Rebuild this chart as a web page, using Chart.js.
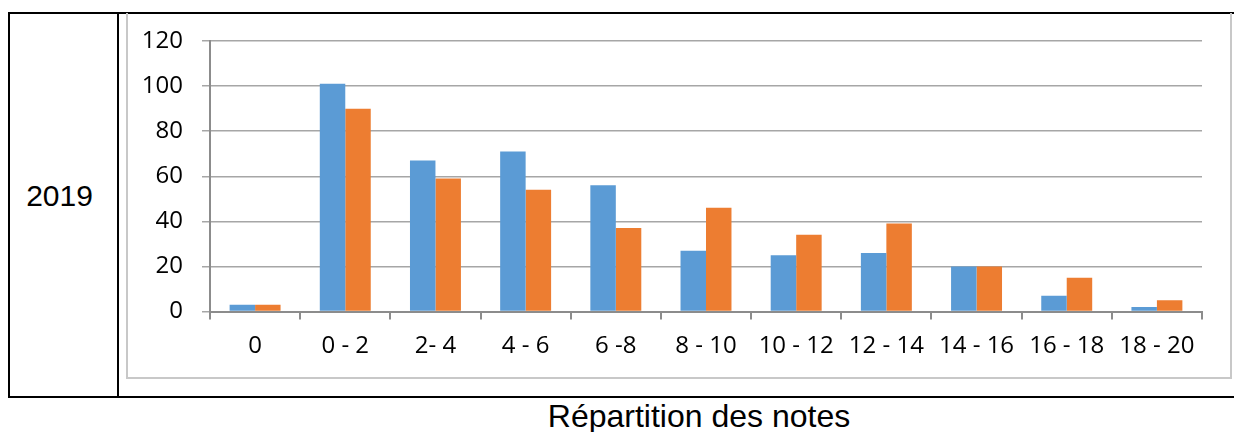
<!DOCTYPE html>
<html>
<head>
<meta charset="utf-8">
<script src="https://cdn.jsdelivr.net/npm/chart.js@4/dist/chart.umd.min.js"></script>
<style>
  body { margin: 0; width: 1234px; height: 432px; background: #fff; position: relative; overflow: hidden; font-family: "Liberation Sans", Arial, sans-serif; }
  .line { position: absolute; background: #000; }
  .year { position: absolute; left: 6px; width: 107px; top: 179px; text-align: center; font-size: 30px; color: #000; }
  .frame { position: absolute; left: 126px; top: 13px; width: 1102px; height: 364px; border: 2px solid #c8c8c8; border-top: none; }
  .chart-box { position: absolute; left: 127px; top: 14px; width: 1102px; height: 363px; }
  .caption { position: absolute; left: 0; width: 1398px; top: 398px; text-align: center; font-size: 32px; color: #000; }
</style>
</head>
<body>
<div class="line" style="left:8px; top:12px; width:1226px; height:2px;"></div>
<div class="line" style="left:8px; top:12px; width:2px; height:386px;"></div>
<div class="line" style="left:117px; top:12px; width:2px; height:386px;"></div>
<div class="line" style="left:8px; top:396px; width:1226px; height:2px;"></div>
<div class="year">2019</div>
<div class="frame"></div>
<div class="chart-box"><canvas id="myChart" width="1102" height="363"></canvas></div>
<div class="caption">Répartition des notes</div>

<script>
const categories = ["0", "0 - 2", "2- 4", "4 - 6", "6 -8", "8 - 10", "10 - 12", "12 - 14", "14 - 16", "16 - 18", "18 - 20"];
const blueValues = [3, 101, 67, 71, 56, 27, 25, 26, 20, 7, 2];
const orangeValues = [3, 90, 59, 54, 37, 46, 34, 39, 20, 15, 5];
const yTicks = [0, 20, 40, 60, 80, 100, 120];

const tickFont = { family: "'Open Sans', sans-serif", size: 24 };

const ctx = document.getElementById('myChart').getContext('2d');
const myChart = new Chart(ctx, {
    type: 'bar',
    data: {
        labels: categories,
        datasets: [{
            data: blueValues,
            backgroundColor: "#5b9bd5",
            borderWidth: 0,
        }, {
            data: orangeValues,
            backgroundColor: "#ed7d31",
            borderWidth: 0,
        }]
    },
    options: {
        responsive: false,
        animation: false,
        layout: { padding: { top: 27, right: 27, left: 0, bottom: 0 } },
        plugins: { legend: { display: false }, tooltip: { enabled: false } },
        datasets: { bar: { categoryPercentage: 0.565, barPercentage: 1 } },
        scales: {
            x: {
                afterFit: (scale) => {
                    scale.height = 65.5;
                    scale.paddingLeft = 0;
                    scale.paddingRight = 0;
                },
                grid: { drawOnChartArea: false, drawTicks: true, tickLength: 8, color: "#8c8c8c", lineWidth: 2, offset: true },
                border: { color: "#8c8c8c", width: 2 },
                ticks: { color: "#000", font: tickFont, padding: 12, maxRotation: 0, autoSkip: false }
            },
            y: {
                min: 0,
                max: 120,
                afterFit: (scale) => {
                    scale.width = 83;
                    scale.paddingTop = 0;
                    scale.paddingBottom = 0;
                },
                afterBuildTicks: (scale) => { scale.ticks = yTicks.map(v => ({ value: v })); },
                grid: { color: "#a6a6a6", lineWidth: 1.5, tickLength: 8 },
                border: { color: "#8c8c8c", width: 2 },
                ticks: { color: "#000", font: tickFont, padding: 19 }
            }
        }
    }
});
</script>
</body>
</html>
